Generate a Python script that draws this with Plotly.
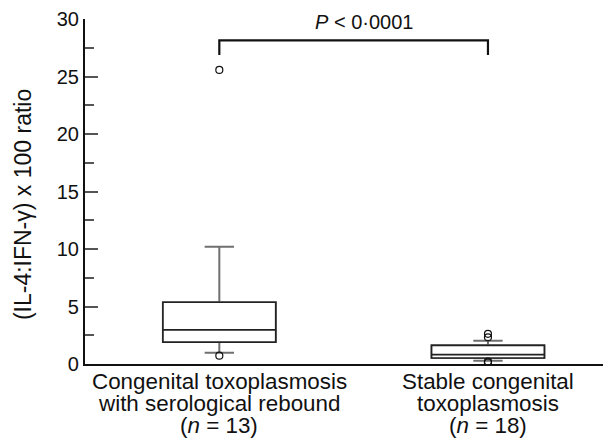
import plotly.graph_objects as go

categories = ["Congenital toxoplasmosis with serological rebound (n = 13)",
              "Stable congenital toxoplasmosis (n = 18)"]
category_label_lines = [
    ["Congenital toxoplasmosis", "with serological rebound", "(<i>n</i> = 13)"],
    ["Stable congenital", "toxoplasmosis", "(<i>n</i> = 18)"],
]
q1 = [1.91, 0.52]
median = [2.96, 0.81]
q3 = [5.37, 1.62]
lowerfence = [0.98, 0.29]
upperfence = [10.2, 2.03]
outlier_x = [categories[0], categories[0], categories[1], categories[1], categories[1], categories[1]]
outlier_y = [25.57, 0.72, 2.62, 2.32, 0.2, 0.15]
y_ticks = [0, 5, 10, 15, 20, 25, 30]
y_title = "(IL-4:IFN-γ) x 100 ratio"
p_text = "<i>P</i> < 0·0001"
bracket_top = 28.15
bracket_leg = 26.87
p_y = 29.7
p_x = 0.54

FONT = "Liberation Sans, Arial, Helvetica, sans-serif"
INK = "#111111"

fig = go.Figure()
# whiskers (gray)
fig.add_trace(go.Box(
    x=categories, q1=q1, median=median, q3=q3,
    lowerfence=lowerfence, upperfence=upperfence,
    width=0.42, whiskerwidth=0.26, boxpoints=False,
    line=dict(color="#707070", width=2), fillcolor="white",
    hoverinfo="skip", showlegend=False))
# box outline (dark)
fig.add_trace(go.Box(
    x=categories, q1=q1, median=median, q3=q3,
    lowerfence=q1, upperfence=q3,
    width=0.42, whiskerwidth=0, boxpoints=False,
    line=dict(color="#222222", width=1.7), fillcolor="white",
    showlegend=False))
fig.add_trace(go.Scatter(
    x=outlier_x, y=outlier_y, mode="markers",
    marker=dict(symbol="circle-open", size=7, color=INK, line=dict(width=1.2)),
    showlegend=False))

# significance bracket
fig.add_shape(type="path", xref="x", yref="y",
              path=f"M 0 {bracket_leg} L 0 {bracket_top} L 1 {bracket_top} L 1 {bracket_leg}",
              line=dict(color=INK, width=2.2))
fig.add_annotation(x=p_x, y=p_y, xref="x", yref="y", text=p_text, showarrow=False,
                   font=dict(family=FONT, size=20, color=INK))

# multi-line category labels with tight leading
for ci, lines in enumerate(category_label_lines):
    for li, txt in enumerate(lines):
        fig.add_annotation(x=categories[ci], y=0, xref="x", yref="paper", text=txt,
                           showarrow=False, yanchor="middle", xanchor="center",
                           yshift=-17.5 - li * 21.8,
                           font=dict(family=FONT, size=22.4, color=INK))

# y-axis title
fig.add_annotation(x=0, y=0.462, xref="paper", yref="paper", text=y_title, textangle=-90,
                   showarrow=False, xanchor="center", yanchor="middle", xshift=-62.5,
                   font=dict(family=FONT, size=23, color=INK))

# the page body adds an 8px offset; compensate so the plot lands where the reference has it
fig.update_layout(
    width=603, height=430,
    margin=dict(l=77, r=0, t=11, b=74),
    plot_bgcolor="white", paper_bgcolor="white",
    boxmode="overlay",
    font=dict(family=FONT, size=20, color=INK),
    xaxis=dict(range=[-0.5, 1.458], showline=True, linecolor=INK, linewidth=2.2,
               ticks="", showgrid=False, zeroline=False, showticklabels=False,
               automargin=False),
    yaxis=dict(range=[0, 30], tickvals=y_ticks, showline=True, linecolor=INK, linewidth=2.2,
               ticks="inside", ticklen=13, tickwidth=1.5, tickcolor="#555555",
               minor=dict(dtick=2.5, ticks="inside", ticklen=9, tickwidth=1.5, tickcolor="#555555"),
               showgrid=False, zeroline=False, automargin=False,
               tickfont=dict(family=FONT, size=20, color=INK)),
)

fig.write_html("out.html")
